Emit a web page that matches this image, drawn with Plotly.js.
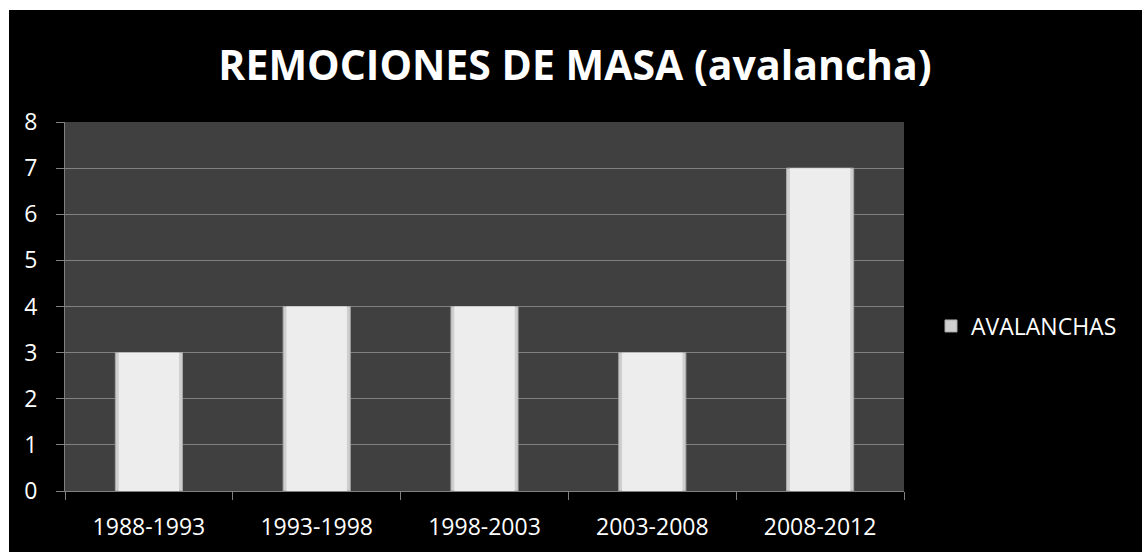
<!DOCTYPE html>
<html>
<head>
<meta charset="utf-8">
<script src="https://cdn.plot.ly/plotly-3.0.1.min.js"></script>
<style>
  html, body { margin: 0; padding: 0; background: #ffffff; width: 1142px; height: 552px; overflow: hidden; }
  #chart { position: absolute; left: 9px; top: 10px; width: 1133px; height: 542px; }
</style>
</head>
<body>
<div id="chart"></div>
<script>
const categories = ["1988-1993", "1993-1998", "1998-2003", "2003-2008", "2008-2012"];
const avalanchas = [3, 4, 4, 3, 7];
const seriesName = "AVALANCHAS";
const chartTitle = "REMOCIONES DE MASA (avalancha)";
const yTicks = [0, 1, 2, 3, 4, 5, 6, 7, 8];

const fontFamily = "Open Sans, Noto Sans, sans-serif";

// outer (edge) bar, shown in legend
const traceOuter = {
  type: "bar",
  x: categories,
  y: avalanchas,
  name: seriesName,
  showlegend: true,
  width: 0.4,
  marker: { color: "#cfcfcf", line: { color: "#a8a8a8", width: 1 } },
  hoverinfo: "x+y"
};
// inner highlight of the same bars (same data), not in legend
const traceInner = {
  type: "bar",
  x: categories,
  y: avalanchas,
  name: seriesName,
  showlegend: false,
  width: 0.36,
  marker: { color: "#ededed", line: { width: 0 } },
  hoverinfo: "skip"
};

const layout = {
  width: 1133,
  height: 542,
  paper_bgcolor: "#000000",
  plot_bgcolor: "#404040",
  margin: { l: 56, r: 238, t: 112, b: 61 },
  barmode: "overlay",
  title: {
    text: "<b>" + chartTitle + "</b>",
    font: { family: fontFamily, size: 41, color: "#ffffff" },
    x: (575 - 9) / 1133, xref: "container", xanchor: "center",
    y: 1 - 56 / 542, yref: "container", yanchor: "middle"
  },
  xaxis: {
    type: "category",
    tickson: "boundaries",
    ticks: "outside",
    ticklen: 8,
    tickcolor: "#808080",
    showline: true,
    linecolor: "#808080",
    showgrid: false,
    tickfont: { family: fontFamily, size: 23, color: "#ffffff" },
    ticklabelstandoff: 15
  },
  yaxis: {
    range: [0, 8],
    tickvals: yTicks,
    ticks: "outside",
    ticklen: 8,
    tickcolor: "#808080",
    showline: true,
    linecolor: "#808080",
    showgrid: true,
    gridcolor: "#808080",
    gridwidth: 1,
    zeroline: false,
    tickfont: { family: fontFamily, size: 23, color: "#ffffff" },
    ticklabelstandoff: 14
  },
  legend: {
    x: 922 / 1133, xref: "container", xanchor: "left",
    y: 1 - 316 / 542, yref: "container", yanchor: "middle",
    font: { family: fontFamily, size: 23, color: "#ffffff" },
    bgcolor: "rgba(0,0,0,0)",
    itemwidth: 30
  }
};

Plotly.newPlot("chart", [traceOuter, traceInner], layout, { displayModeBar: false, staticPlot: true });
</script>
</body>
</html>
